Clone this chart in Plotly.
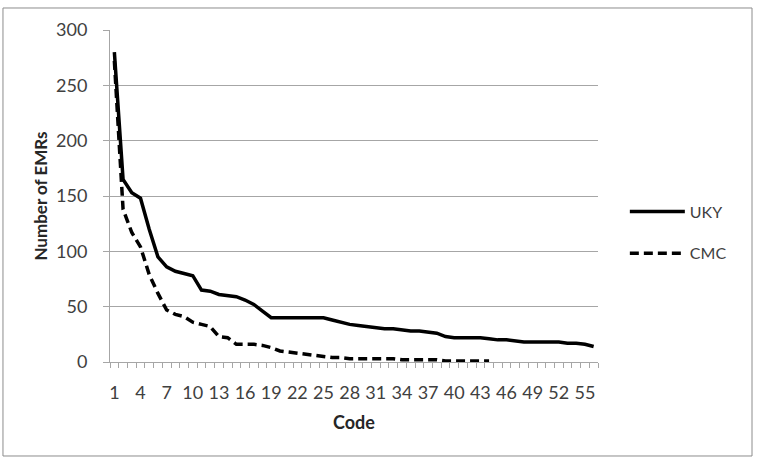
import plotly.graph_objects as go

codes = list(range(1, 57))
uky = [280, 165, 153, 148, 120, 95, 86, 82, 80, 78,
       65, 64, 61, 60, 59, 56, 52, 46, 40, 40,
       40, 40, 40, 40, 40, 38, 36, 34, 33, 32,
       31, 30, 30, 29, 28, 28, 27, 26, 23, 22,
       22, 22, 22, 21, 20, 20, 19, 18, 18, 18,
       18, 18, 17, 17, 16, 14]
cmc_codes = list(range(1, 45))
cmc = [272, 138, 117, 104, 79, 62, 47, 43, 41, 36,
       34, 32, 23, 22, 16, 16, 16, 15, 13, 10,
       9, 8, 7, 6, 5, 4, 4, 3, 3, 3,
       3, 3, 3, 2, 2, 2, 2, 2, 1, 1,
       1, 1, 1, 1]
x_tick_vals = list(range(1, 57, 3))
x_tick_labels = [str(v) for v in x_tick_vals]
y_tick_vals = [0, 50, 100, 150, 200, 250, 300]
boundaries = [c - 0.5 for c in codes] + [codes[-1] + 0.5]

FONT = "Lato"
GRID = "#a6a6a6"
TXT = "#404040"

fig = go.Figure()
fig.add_trace(go.Scatter(x=codes, y=uky, mode="lines", name="UKY", legendgroup="a",
                         line=dict(color="black", width=3.5)))
fig.add_trace(go.Scatter(x=cmc_codes, y=cmc, mode="lines", name="CMC", legendgroup="b",
                         line=dict(color="black", width=3.5, dash="9px,5px")))

fig.update_layout(
    width=760, height=458,
    margin=dict(l=110, r=162, t=30, b=96),
    paper_bgcolor="white", plot_bgcolor="white",
    font=dict(family=FONT, size=17, color=TXT),
    showlegend=True,
    legend=dict(x=1.055, xanchor="left", y=0.39, yanchor="middle",
                tracegroupgap=18, itemwidth=55,
                font=dict(family=FONT, size=16, color=TXT),
                bgcolor="rgba(0,0,0,0)"),
    shapes=[dict(type="rect", xref="paper", yref="paper",
                 x0=-0.2193, x1=1.3156, y0=-0.2831, y1=1.0663,
                 line=dict(color="#8c8c8c", width=1), layer="below")],
)
fig.update_xaxes(
    range=[0.5, 56.5], tickmode="array", tickvals=x_tick_vals, ticktext=x_tick_labels,
    ticks="outside", ticklen=0, tickcolor=GRID, showgrid=False, zeroline=False,
    showline=True, linecolor=GRID, linewidth=1,
    ticklabelstandoff=14,
    tickfont=dict(family=FONT, size=18, color=TXT),
    minor=dict(tickmode="array", tickvals=boundaries, ticks="outside", ticklen=5,
               tickcolor=GRID, showgrid=False),
    title=dict(text="<b>Code</b>", font=dict(family=FONT, size=18, color="#262626"), standoff=14),
)
fig.update_yaxes(
    range=[0, 300], tickmode="array", tickvals=y_tick_vals,
    ticks="outside", ticklen=6, tickcolor=GRID,
    showgrid=True, gridcolor=GRID, gridwidth=1, zeroline=False,
    showline=True, linecolor=GRID, linewidth=1,
    ticklabelstandoff=12,
    tickfont=dict(family=FONT, size=18, color=TXT),
    title=dict(text="<b>Number of EMRs</b>", font=dict(family=FONT, size=17, color="#262626"), standoff=4),
)

fig.write_html("out.html")
